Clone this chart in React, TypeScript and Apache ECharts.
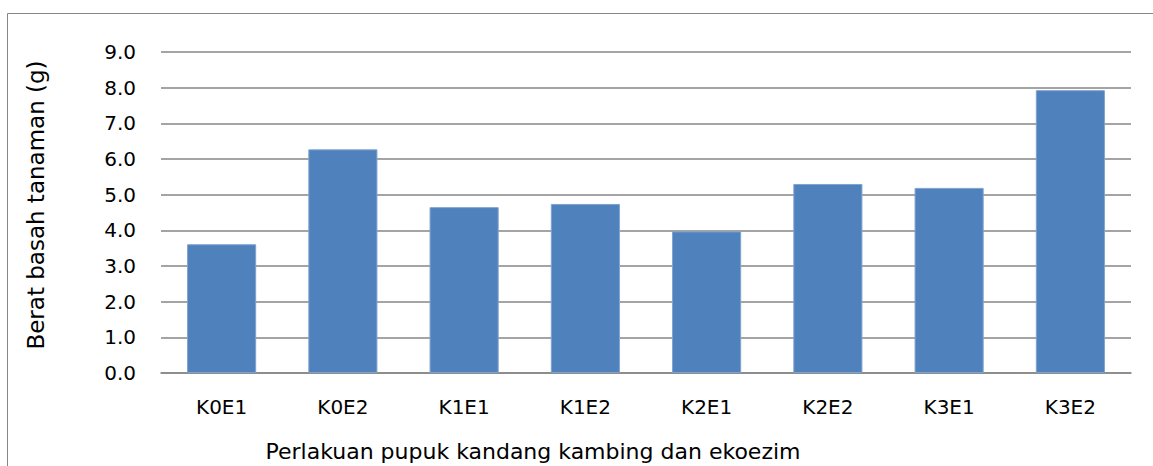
import React, { useEffect, useRef } from "react";
import * as echarts from "echarts";

const categories = ["K0E1", "K0E2", "K1E1", "K1E2", "K2E1", "K2E2", "K3E1", "K3E2"];
const values = [3.61, 6.27, 4.65, 4.74, 3.97, 5.3, 5.19, 7.93];
const yTitle = "Berat basah tanaman (g)";
const xTitle = "Perlakuan pupuk kandang kambing dan ekoezim";

const FONT = "'DejaVu Sans', sans-serif";

export default function App() {
  const ref = useRef<HTMLDivElement>(null);
  useEffect(() => {
    if (!ref.current) return;
    const chart = echarts.init(ref.current, undefined, { renderer: "svg" });
    chart.setOption({
      animation: false,
      backgroundColor: "#ffffff",
      grid: { left: 161, right: 22, top: 52, bottom: 93, containLabel: false },
      xAxis: {
        type: "category",
        data: categories,
        axisLine: { show: true, lineStyle: { color: "#868686", width: 1.5 } },
        axisTick: { show: false },
        axisLabel: { color: "#000", fontSize: 20, fontFamily: FONT, margin: 24 },
      },
      yAxis: {
        type: "value",
        min: 0,
        max: 9,
        interval: 1,
        axisLine: { show: false },
        axisTick: { show: false },
        axisLabel: {
          color: "#000",
          fontSize: 20,
          fontFamily: FONT,
          margin: 25,
          formatter: (v: number) => v.toFixed(1),
        },
        splitLine: { show: true, lineStyle: { color: "#868686", width: 1.5 } },
      },
      series: [
        {
          type: "bar",
          data: values,
          barWidth: "57%",
          itemStyle: { color: "#4F81BD", borderColor: "#7fa3d0", borderWidth: 1 },
        },
      ],
      graphic: [
        {
          type: "rect",
          shape: { x: 7.5, y: 13.5, width: 1300, height: 600 },
          style: { fill: "none", stroke: "#868686", lineWidth: 1 },
          silent: true,
        },
        {
          type: "text",
          x: 533,
          y: 451,
          style: {
            text: xTitle,
            fill: "#000",
            fontSize: 22,
            fontFamily: FONT,
            textAlign: "center",
            textVerticalAlign: "middle",
          },
        },
        {
          type: "text",
          x: 36,
          y: 205,
          rotation: Math.PI / 2,
          style: {
            text: yTitle,
            fill: "#000",
            fontSize: 23,
            fontFamily: FONT,
            textAlign: "center",
            textVerticalAlign: "middle",
          },
        },
      ],
    });
    return () => chart.dispose();
  }, []);
  return (
    <div
      ref={ref}
      style={{ position: "fixed", left: 0, top: 0, width: 1153, height: 466 }}
    />
  );
}
